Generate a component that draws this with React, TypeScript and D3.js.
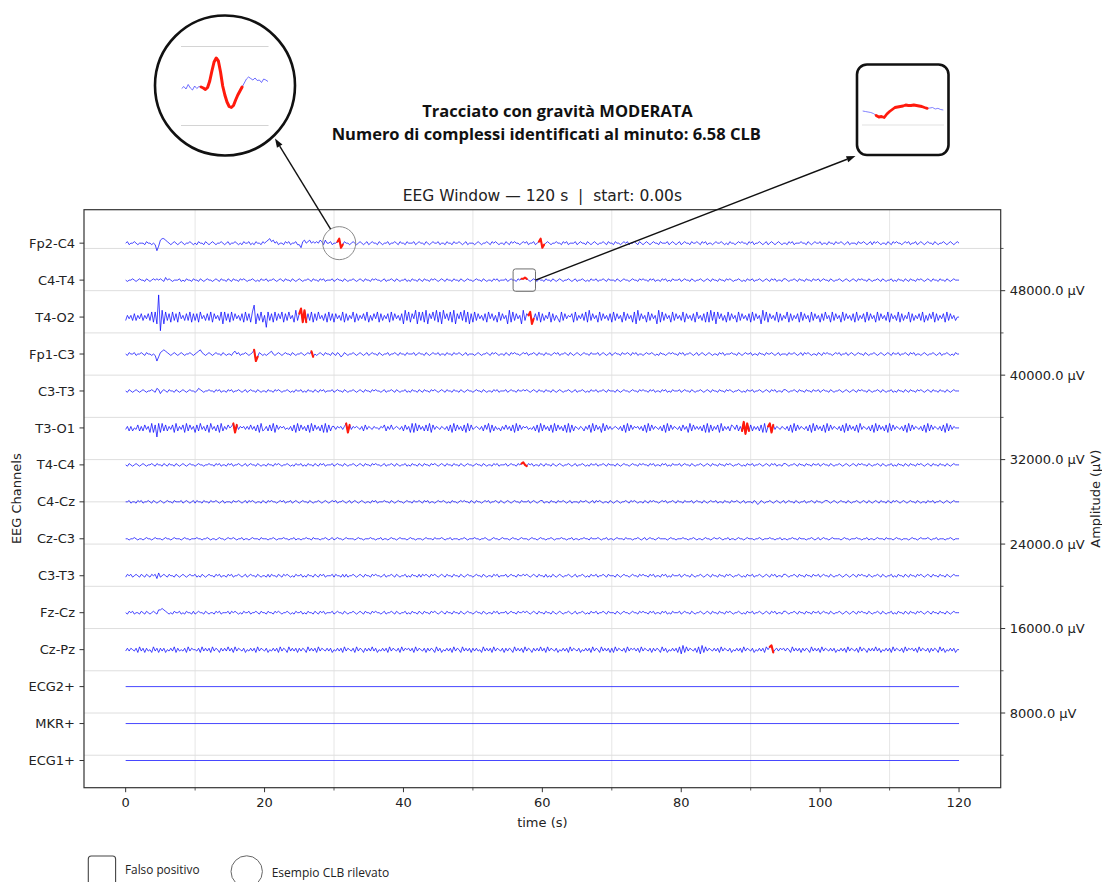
import React from "react";
import * as d3 from "d3";

// ---------- layout of the recording ----------
const WINDOW_S = 120;
const CHANNEL_OFFSET_UV = 3500; // vertical spacing between stacked channels
const LEVEL_UV = 95; // one signal level in µV at unit sensitivity

const CHANNELS = [
  "Fp2-C4", "C4-T4", "T4-O2", "Fp1-C3", "C3-T3", "T3-O1", "T4-C4", "C4-Cz",
  "Cz-C3", "C3-T3", "Fz-Cz", "Cz-Pz", "ECG2+", "MKR+", "ECG1+",
];
// per-channel display sensitivity
const CHANNEL_GAIN = [1.5, 1.3, 1.7, 1.4, 1.3, 1.5, 1.3, 1.3, 1.2, 1.4, 1.4, 1.4, 1, 1, 1];

// Signals: one level per 0.25 s, written in 2.5 s groups of ten.
// '1'..'9' -> -4..+4, 'A'.. -> +5.., 'a'.. -> -5..
const FP2_C4 = [
  "5645565455 54655454a3 7887654565 4565455654",
  "5465546545 6545565456 4556545465 5645465546",
  "5678675645 5465645564 4267567565 6576475564",
  "5568246554 5654565456 4565546545 5645565465",
  "5465556456 5546545655 6455465546 5565456455",
  "5456545565 4656545546 5465655456 5645564568",
  "2456545565 5465645556 4565546545 6545565465",
  "5465545656 4556546545 6545655465 5564565456",
  "4565546556 5465645545 6556545465 5456565546",
  "5645565456 4565456545 5465645556 5546545655",
  "6455465546 5565456455 5465565456 4656545546",
  "5465655456 5645564565 4565546545 5654565456",
  "5",
];
const C4_T4 = [
  "5455654565 5465456565 6547565455 5645465546",
  "5546545655 4565465546 5465546565 4556545465",
  "5645565456 5465546545 6545565465 5465645556",
  "4565546545 5654565465 5465655456 4556546545",
  "5645465546 5465546565 4565465546 5546545655",
  "4565546545 5465645556 4565546566 7654565465",
  "5465546545 6545565456 4556545465 5645565465",
  "5546545655 4565546565 5465645546 5645465556",
  "4565546545 5654565465 5465546565 4556545465",
  "5645565456 5465645546 6545565465 5465546556",
  "4565546545 5654565456 5465655465 4556546545",
  "5645465546 5465546565 4565465546 5546545655",
  "5",
];
const T4_O2 = [
  "3646373647 364738281I d918372837 2846373827",
  "3728463738 2746381837 2837463728 3728C17382",
  "6b83728374 8273846293 7A29273827 3846372837",
  "2746382736 4827364738 2637482736 4728374637",
  "1938274918 3829174839 2819473829 1748392817",
  "2837463728 4736283746 1928374619 3768147382",
  "7364827364 2837465728 3647382937 4628374637",
  "2837462837 4628193746 2837461928 3746283746",
  "3827463728 4637282938 1847362837 4628374637",
  "2837461938 2746382736 4827364728 3746283746",
  "2738462837 4628374637 2836472837 4628374638",
  "2746382736 4827364738 2637482736 4728374635",
  "5",
];
const FP1_C3 = [
  "5465564556 54655454a3 6787654565 4565455654",
  "5678654565 4565546545 5467564556 54568a3654",
  "5456754565 4565546545 5654565735 4565465546",
  "5465346545 5654565456 4565546545 5645565465",
  "5465556456 5546545655 6455465546 5565456455",
  "5456545565 4656545546 5465655456 5645565465",
  "5465545656 4556546545 6545655465 5564565456",
  "4565546556 5465645545 6556545465 5456565546",
  "5645565456 4565456545 5465645556 5546545655",
  "6455465546 5565456455 5465565456 4656545546",
  "5465655456 5645564565 4565546545 5654565456",
  "5465564556 5465645545 6545565456 4556545465",
  "5",
];
const C3_T3_A = [
  "5465456545 6545565476 3565465546 5456545655",
  "4576545565 5465645546 5645565456 4565546545",
  "5465546565 4556545465 5645465546 5465645556",
  "4565546545 5654565465 5465655456 4556546545",
  "5645465546 5465546565 4565465546 5546545655",
  "4565546545 5465645556 4565546556 5654565465",
  "5465546545 6545565456 4556545465 5645565465",
  "5546545655 4565546565 5465645546 5645465556",
  "4565546545 5654565465 5465546565 4556545465",
  "5645565456 5465645546 6545565465 5465546556",
  "4565546545 5654565456 5465655465 4556546545",
  "5645465546 5465546565 4565465546 5546545655",
  "5",
];
const T3_O1 = [
  "4636354736 37462827b8 2837364728 3647283746",
  "2738463728 4637283647 5682746564 6474637283",
  "4637382746 5645463728 3746372837 4637282736",
  "6465646827 4656546374 6546554657 3647456546",
  "3746282837 4637382746 5465463728 3746372837",
  "4565463748 2736453647 4637283746 5645463728",
  "3746372837 4637282736 5465364728 3746283746",
  "4565463728 3746564637 2837465463 7283746546",
  "3746283746 4637282736 4728364637 6473639183",
  "7364637282 6827465465 4637283746 5463728374",
  "6372837465 4637283746 3728465463 7283746372",
  "8374654637 2837465463 7283746546 3728374655",
  "5",
];
const T4_C4 = [
  "5465456545 6545565465 5465465546 5456545655",
  "4565545565 5465645546 5645565456 4565546545",
  "5465546565 4556545465 5645465546 5465645556",
  "4565546545 5654565465 5465655456 4556546545",
  "5645465546 5465546565 4565465546 5546545655",
  "4565546545 5465645556 4565546567 5465645546",
  "5465546545 6545565456 4556545465 5645565465",
  "5546545655 4565546565 5465645546 5645465556",
  "4565546545 5654565465 5465546565 4556545465",
  "5645565456 5465645546 6545565465 5465546556",
  "4565546545 5654565456 5465655465 4556546545",
  "5645465546 5465546565 4565465546 5546545655",
  "5",
];
const C4_CZ = [
  "5564554656 4556546545 6545655465 5564565456",
  "4655465546 5565456455 5465565456 4656545546",
  "5465655456 5645564565 4565546545 5654565456",
  "5645565456 4565456545 5465645556 5546545655",
  "4565546556 5465645545 6556545465 5456565546",
  "5465545656 4556546545 6545655465 5564565456",
  "6455465546 5565456455 5465565456 4656545546",
  "5456545565 4656545546 5465655456 5645565465",
  "5465556456 5546545655 6455465546 5565456455",
  "5465346545 5654565456 4565546545 5645565465",
  "5456654565 4565546545 5654565465 4565465546",
  "5465654565 4565546545 5465564556 5456545655",
  "5",
];
const CZ_C3 = [
  "5545565455 4565545655 5456554565 5545655455",
  "5655455654 5545655456 5565455645 5456555465",
  "5545565455 5655455645 5455655465 5545565456",
  "4565545655 5545655455 5655455645 5456554565",
  "5545655455 5456555465 5565455645 5545565455",
  "5655455654 4565545655 5456554565 5545655456",
  "5545565455 5655455645 5455655465 5565455645",
  "5456555465 5545565456 4565545655 5545655455",
  "5655455654 5545655456 5565455645 5456554565",
  "5545565455 5655455645 5455655465 5545565456",
  "4565545655 5545655455 5655455645 5456555465",
  "5545655455 5456554565 5565455645 5545565455",
  "5",
];
const C3_T3_B = [
  "4656456546 5465465637 4565465546 5456545655",
  "6454654565 5465645546 5645565456 4565546545",
  "5464655465 4656545465 5645465546 5465645556",
  "4655464645 5654565465 5465655456 4556546545",
  "5645465546 4656546565 4565465546 5546545655",
  "4565546545 5465645556 4565546556 5654565465",
  "5464546545 6545565456 4556545465 5645565465",
  "5546545655 4565546565 5465645546 5645465556",
  "4565546545 5654565465 5465546565 4556545465",
  "5645565456 5465645546 6545565465 5465546556",
  "4565546545 5654565456 5465655465 4556546545",
  "5645465546 5465546565 4565465546 5546545655",
  "5",
];
const FZ_CZ = [
  "5465645546 5465456547 7876545465 5645465546",
  "4565546545 5465645556 4656545465 5645565465",
  "5465546565 4556545465 5645465546 5465645556",
  "4565546545 5654565465 5465655456 4556546545",
  "5645465546 5465546565 4565465546 5546545655",
  "4565546545 5465645556 4565546556 5654565465",
  "5465546545 6545565456 4556545465 5645565465",
  "5546545655 4565546565 5465645546 5645465556",
  "4565546545 5654565465 5465546565 4556545465",
  "5645565456 5465645546 6545565465 5465546556",
  "4565546545 5654565456 5465655465 4556546545",
  "5645465546 5465546565 4565465546 5546545655",
  "5",
];
const CZ_PZ = [
  "4646546374 6364537463 6463546473 6454637465",
  "5463746463 7465364647 4637465463 5464637465",
  "4635464637 4653746463 6465374646 3746546463",
  "5464637465 4637465364 6474635464 6374654637",
  "4656463746 5463646537 4635464637 4653746463",
  "6464537464 6374654636 4653746463 7465364647",
  "4637465463 5464637465 4635464637 4653746463",
  "6374654637 4656463746 5463646537 4635464637",
  "2837465463 7283746546 4637465463 5464637465",
  "4635464637 5783564656 4653746463 6465374646",
  "3746546463 5464637465 4637465364 6474635464",
  "6374654637 4656463746 5463646537 4635464635",
  "5",
];
const ECG2_PLUS = ["55"];
const MKR_PLUS = ["55"];
const ECG1_PLUS = ["55"];

const SIGNALS = [
  FP2_C4, C4_T4, T4_O2, FP1_C3, C3_T3_A, T3_O1, T4_C4, C4_CZ,
  CZ_C3, C3_T3_B, FZ_CZ, CZ_PZ, ECG2_PLUS, MKR_PLUS, ECG1_PLUS,
];

// Detected CLB complexes: channel index, start (s), end (s)
const DETECTIONS: [number, number, number][] = [
  [0, 30.5, 31.25], [0, 59.5, 60.25],
  [1, 57.0, 57.75],
  [2, 25.0, 26.0], [2, 58.0, 58.75],
  [3, 18.5, 19.0], [3, 26.75, 27.0],
  [5, 15.5, 16.0], [5, 31.75, 32.25], [5, 88.75, 89.75], [5, 92.5, 93.25],
  [6, 57.0, 57.75],
  [11, 92.75, 93.25],
];

// Highlighted examples: [channel, time (s)]
const EXAMPLE_CLB: [number, number] = [0, 30.75];
const EXAMPLE_FALSE_POSITIVE: [number, number] = [1, 57.4];

// Magnified excerpts (levels) shown in the callouts
const ZOOM_CLB = [
  -2.5, -0.5, -3, 1.5, -2, -4, 0, -2.5, -0.5, -1, -2, -3.5, -1.5, 5, 15, 24, 28, 25, 14, 0,
  -9, -16, -20.5, -21.5, -19.5, -14, -9, -5, -1, 3, 7, 9, 7.5, 6, 8, 5.5, 6, 3.5, 7, 6, 4.5,
];
const ZOOM_CLB_RED: [number, number] = [9, 28];
const ZOOM_FP = [
  -1, -1.5, -2, -2.5, -3.5, -5.5, -7, -6.5, -7.5, -4, -1.5, 0.5, 2.5, 3, 3.5, 4, 5, 4.5, 4.5, 5,
  4.5, 4, 3.5, 2.5, 1.7, 2, 2.5, 1, 1.7, 0.5, 0,
];
const ZOOM_FP_RED: [number, number] = [5, 24];

// Axis ticks
const TIME_TICKS = [0, 20, 40, 60, 80, 100, 120];
const TIME_MINOR = [10, 30, 50, 70, 90, 110];
const AMP_TICKS = [8000, 16000, 24000, 32000, 40000, 48000];
const AMP_MINOR = [4000, 12000, 20000, 28000, 36000, 44000, 52000];

const TITLE_1 = "Tracciato con gravità MODERATA";
const TITLE_2 = "Numero di complessi identificati al minuto: 6.58 CLB";
const AX_TITLE = "EEG Window — 120 s  |  start: 0.00s";

function levelOf(c: string): number {
  if (c >= "1" && c <= "9") return +c - 5;
  if (c >= "A" && c <= "Z") return c.charCodeAt(0) - 65 + 5;
  if (c >= "a" && c <= "z") return -(c.charCodeAt(0) - 97 + 5);
  return 0;
}

function decode(chunks: string[]): number[] {
  const groups = chunks.join(" ").trim().split(/\s+/);
  const s = groups
    .map((g, i) => (i < groups.length - 1 ? g.padEnd(10, "5").slice(0, 10) : g))
    .join("");
  return Array.from(s, levelOf);
}

const W = 1102;
const H = 882;
const PLOT = { left: 84, right: 1000.7, top: 209.7, bottom: 787.7 };
const TICK_FONT = "DejaVu Sans, sans-serif";
const SANS = "'Open Sans', 'Noto Sans', sans-serif";
const TRACE = "#0000ff";
const DETECT = "#ff1a0d";

export default function App() {
  const x = d3.scaleLinear().domain([-6, 126]).range([PLOT.left, PLOT.right]);
  const y = d3.scaleLinear().domain([925, 55670]).range([PLOT.bottom, PLOT.top]);
  const n = CHANNELS.length;
  const base = (i: number) => (n - i) * CHANNEL_OFFSET_UV;

  const traces = SIGNALS.map((sig, ci) => {
    const vals = decode(sig);
    const dt = WINDOW_S / (vals.length - 1);
    const g = CHANNEL_GAIN[ci] * LEVEL_UV;
    return vals.map((v, i) => [i * dt, base(ci) + v * g] as [number, number]);
  });
  const line = d3
    .line<[number, number]>()
    .x((d) => x(d[0]))
    .y((d) => y(d[1]));

  const detPaths = DETECTIONS.map(([ci, s, e]) => {
    const pts = traces[ci];
    const dt = WINDOW_S / (pts.length - 1);
    const a = Math.round(s / dt);
    const b = Math.round(e / dt);
    return line(pts.slice(a, b + 1)) || "";
  });

  // markers around the highlighted examples
  const clbCx = x(EXAMPLE_CLB[1]);
  const clbCy = y(base(EXAMPLE_CLB[0]));
  const clbR = 16.5;
  const fpCx = x(EXAMPLE_FALSE_POSITIVE[1]);
  const fpCy = y(base(EXAMPLE_FALSE_POSITIVE[0]));
  const fpHalf = 11.2;

  // callouts
  const c1 = { cx: 225, cy: 85.5, r: 70 };
  const c2 = { x: 857, y: 64.5, w: 91.5, h: 90.5 };
  const z1x = d3.scaleLinear().domain([0, ZOOM_CLB.length - 1]).range([181.7, 268]);
  const z1y = d3.scaleLinear().domain([-40, 40]).range([126, 46]);
  const z2x = d3.scaleLinear().domain([0, ZOOM_FP.length - 1]).range([862.7, 943.3]);
  const z2y = d3.scaleLinear().domain([-15, 15]).range([125, 95]);
  const zl1 = d3.line<number>().x((_, i) => z1x(i)).y((d) => z1y(d));
  const zl1Red = d3.line<number>().x((_, i) => z1x(i + ZOOM_CLB_RED[0])).y((d) => z1y(d));
  const zl2 = d3.line<number>().x((_, i) => z2x(i)).y((d) => z2y(d));
  const zl2Red = d3.line<number>().x((_, i) => z2x(i + ZOOM_FP_RED[0])).y((d) => z2y(d));

  const arrow = (x1: number, y1: number, x2: number, y2: number) => {
    const ang = Math.atan2(y2 - y1, x2 - x1);
    const L = 9;
    const hw = 3.2;
    const bx = x2 - L * Math.cos(ang);
    const by = y2 - L * Math.sin(ang);
    const px = -Math.sin(ang) * hw;
    const py = Math.cos(ang) * hw;
    return (
      <g>
        <line x1={x1} y1={y1} x2={bx} y2={by} stroke="#111" strokeWidth={1.4} />
        <path d={`M${x2},${y2}L${bx + px},${by + py}L${bx - px},${by - py}Z`} fill="#111" />
      </g>
    );
  };

  // arrow tails on the marker edges
  const a1Head = [275, 138.5];
  const a1Ang = Math.atan2(a1Head[1] - clbCy, a1Head[0] - clbCx);
  const a1Tail = [clbCx + clbR * Math.cos(a1Ang), clbCy + clbR * Math.sin(a1Ang)];
  const a2Tail = [fpCx + fpHalf, fpCy];
  const a2Head = [855.5, 156];

  return (
    <svg
      width={W}
      height={H}
      viewBox={`0 0 ${W} ${H}`}
      style={{ position: "absolute", left: 0, top: 0, background: "#fff" }}
    >
      <rect x={0} y={0} width={W} height={H} fill="#fff" />

      {/* grid */}
      {TIME_MINOR.map((t) => (
        <line key={"vg" + t} x1={x(t)} x2={x(t)} y1={PLOT.top} y2={PLOT.bottom} stroke="#e6e6e6" strokeWidth={1} />
      ))}
      {AMP_TICKS.concat(AMP_MINOR).map((v) => (
        <line key={"hg" + v} x1={PLOT.left} x2={PLOT.right} y1={y(v)} y2={y(v)} stroke="#dedede" strokeWidth={1} />
      ))}

      {/* traces */}
      {traces.map((pts, ci) => (
        <path key={"tr" + ci} d={line(pts) || ""} fill="none" stroke={TRACE} strokeWidth={1} strokeOpacity={0.72} strokeLinejoin="round" />
      ))}
      {detPaths.map((d, i) => (
        <path key={"det" + i} d={d} fill="none" stroke={DETECT} strokeWidth={2.1} strokeLinejoin="round" strokeLinecap="round" />
      ))}

      {/* markers */}
      <circle cx={clbCx} cy={clbCy} r={clbR} fill="none" stroke="#8a8a8a" strokeWidth={1} />
      <rect x={fpCx - fpHalf} y={fpCy - fpHalf} width={fpHalf * 2} height={fpHalf * 2} rx={2.5} fill="none" stroke="#6f6f6f" strokeWidth={1} />

      {/* frame */}
      <rect x={PLOT.left} y={PLOT.top} width={PLOT.right - PLOT.left} height={PLOT.bottom - PLOT.top} fill="none" stroke="#333" strokeWidth={1.2} />

      {/* bottom axis */}
      {TIME_TICKS.map((t) => (
        <g key={"xt" + t}>
          <line x1={x(t)} x2={x(t)} y1={PLOT.bottom} y2={PLOT.bottom + 4.5} stroke="#333" strokeWidth={1} />
          <text x={x(t)} y={807} textAnchor="middle" fontFamily={TICK_FONT} fontSize={13} fill="#222">
            {t}
          </text>
        </g>
      ))}
      {TIME_MINOR.map((t) => (
        <line key={"xm" + t} x1={x(t)} x2={x(t)} y1={PLOT.bottom} y2={PLOT.bottom + 2.8} stroke="#333" strokeWidth={0.8} />
      ))}
      <text x={(PLOT.left + PLOT.right) / 2} y={826.5} textAnchor="middle" fontFamily={TICK_FONT} fontSize={13} fill="#222">
        time (s)
      </text>

      {/* channel axis */}
      {CHANNELS.map((name, ci) => (
        <g key={"yl" + ci}>
          <line x1={PLOT.left - 4.5} x2={PLOT.left} y1={y(base(ci))} y2={y(base(ci))} stroke="#333" strokeWidth={1} />
          <text x={PLOT.left - 9} y={y(base(ci)) + 4.6} textAnchor="end" fontFamily={TICK_FONT} fontSize={13} fill="#222">
            {name}
          </text>
        </g>
      ))}
      <text transform={`translate(21,${(PLOT.top + PLOT.bottom) / 2}) rotate(-90)`} textAnchor="middle" fontFamily={TICK_FONT} fontSize={13} fill="#222">
        EEG Channels
      </text>

      {/* amplitude axis */}
      {AMP_TICKS.map((v) => (
        <g key={"ra" + v}>
          <line x1={PLOT.right} x2={PLOT.right + 4.5} y1={y(v)} y2={y(v)} stroke="#333" strokeWidth={1} />
          <text x={PLOT.right + 9} y={y(v) + 4.6} fontFamily={TICK_FONT} fontSize={13} fill="#222">
            {`${v.toFixed(1)} µV`}
          </text>
        </g>
      ))}
      {AMP_MINOR.map((v) => (
        <line key={"rm" + v} x1={PLOT.right} x2={PLOT.right + 2.8} y1={y(v)} y2={y(v)} stroke="#333" strokeWidth={0.8} />
      ))}
      <text transform={`translate(1099.5,${(PLOT.top + PLOT.bottom) / 2}) rotate(-90)`} textAnchor="middle" fontFamily={TICK_FONT} fontSize={13} fill="#222">
        Amplitude (µV)
      </text>

      {/* titles */}
      <text x={(PLOT.left + PLOT.right) / 2} y={201} textAnchor="middle" fontFamily={TICK_FONT} fontSize={15.5} fill="#222" style={{ whiteSpace: "pre" }}>
        {AX_TITLE}
      </text>
      <text x={557.5} y={116.5} textAnchor="middle" fontFamily={SANS} fontWeight={700} fontSize={16.5} fill="#111">
        {TITLE_1}
      </text>
      <text x={546.3} y={139.5} textAnchor="middle" fontFamily={SANS} fontWeight={700} fontSize={16.5} fill="#111">
        {TITLE_2}
      </text>

      {/* arrows */}
      {arrow(a1Tail[0], a1Tail[1], a1Head[0], a1Head[1])}
      {arrow(a2Tail[0], a2Tail[1], a2Head[0], a2Head[1])}

      {/* callout: detected CLB */}
      <circle cx={c1.cx} cy={c1.cy} r={c1.r} fill="#fff" stroke="#111" strokeWidth={2.6} />
      <line x1={181} x2={268.5} y1={z1y(39.5)} y2={z1y(39.5)} stroke="#d4d4d4" strokeWidth={1.1} />
      <line x1={181} x2={268.5} y1={z1y(-39.5)} y2={z1y(-39.5)} stroke="#d4d4d4" strokeWidth={1.1} />
      <path d={zl1(ZOOM_CLB) || ""} fill="none" stroke="#4a4aff" strokeOpacity={0.8} strokeWidth={1} />
      <path
        d={zl1Red(ZOOM_CLB.slice(ZOOM_CLB_RED[0], ZOOM_CLB_RED[1] + 1)) || ""}
        fill="none" stroke={DETECT} strokeWidth={3} strokeLinejoin="round" strokeLinecap="round"
      />

      {/* callout: false positive */}
      <rect x={c2.x} y={c2.y} width={c2.w} height={c2.h} rx={10} fill="#fff" stroke="#111" strokeWidth={2.6} />
      <line x1={862} x2={944} y1={z2y(-15)} y2={z2y(-15)} stroke="#e2e2e2" strokeWidth={1.1} />
      <path d={zl2(ZOOM_FP) || ""} fill="none" stroke="#5a5aff" strokeOpacity={0.75} strokeWidth={1} />
      <path
        d={zl2Red(ZOOM_FP.slice(ZOOM_FP_RED[0], ZOOM_FP_RED[1] + 1)) || ""}
        fill="none" stroke={DETECT} strokeWidth={2.8} strokeLinejoin="round" strokeLinecap="round"
      />

      {/* legend */}
      <rect x={88.3} y={856} width={27.3} height={32} rx={3} fill="none" stroke="#444" strokeWidth={1.1} />
      <text x={125} y={874} fontFamily={SANS} fontSize={11.8} fill="#222">
        Falso positivo
      </text>
      <circle cx={246.7} cy={871.5} r={15.7} fill="none" stroke="#666" strokeWidth={1} />
      <text x={271.7} y={876.5} fontFamily={SANS} fontSize={12} fill="#222">
        Esempio CLB rilevato
      </text>
    </svg>
  );
}
